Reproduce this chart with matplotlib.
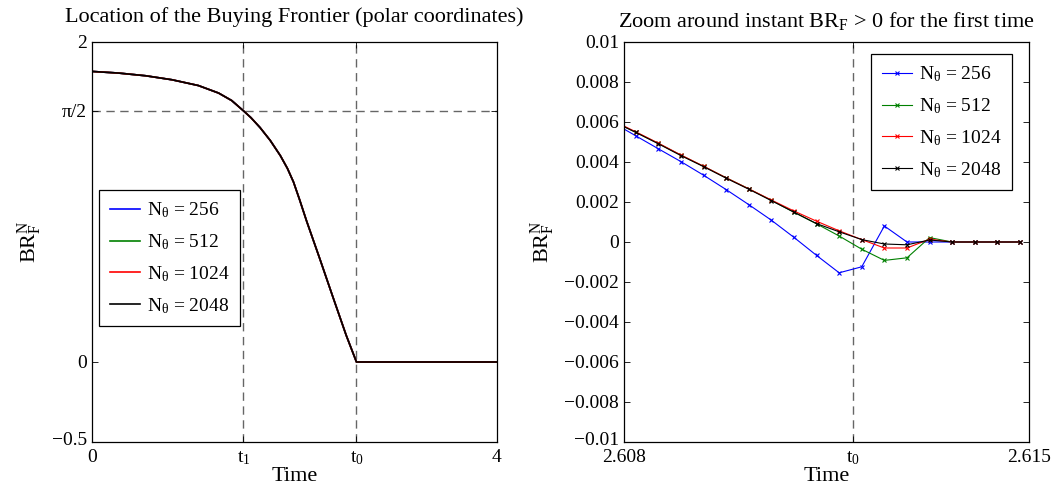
import matplotlib
matplotlib.use("Agg")
import matplotlib.pyplot as plt
from matplotlib.transforms import ScaledTranslation

plt.rcParams['font.family'] = ['Liberation Serif', 'DejaVu Serif']
plt.rcParams['mathtext.fontset'] = 'custom'
plt.rcParams['mathtext.rm'] = 'Liberation Serif'
plt.rcParams['mathtext.it'] = 'Liberation Serif'
plt.rcParams['mathtext.bf'] = 'Liberation Serif:bold'

# ---- data ----
t1 = 1.494
t0 = 2.61195

# left panel: the four resolutions overlap completely
t_left = [0, 0.26, 0.53, 0.79, 1.05, 1.25, 1.38, 1.494, 1.57, 1.66, 1.76,
          1.86, 1.93, 1.99, 2.05, 2.12, 2.25, 2.38, 2.51, 2.612, 4.0]
br_left = [1.816, 1.806, 1.789, 1.764, 1.728, 1.681, 1.634, 1.571, 1.527,
           1.465, 1.385, 1.29, 1.21, 1.125, 1.015, 0.88, 0.645, 0.405,
           0.168, 0.0, 0.0]

# right panel (zoom), time steps of 4/10240
t_zoom = [2.607813, 2.608203, 2.608594, 2.608984, 2.609375, 2.609766,
          2.610156, 2.610547, 2.610938, 2.611328, 2.611719, 2.612109,
          2.612500, 2.612891, 2.613281, 2.613672, 2.614063, 2.614453,
          2.614844]
br_256 = [0.00596, 0.00531, 0.00466, 0.00402, 0.00334, 0.00262, 0.00187,
          0.00109, 0.00023, -0.00067, -0.00154, -0.00124, 0.00080, 0, 0,
          0, 0, 0, 0]
br_512 = [0.00603, 0.00549, 0.00493, 0.00434, 0.00378, 0.00321, 0.00266,
          0.00208, 0.00149, 0.00091, 0.00030, -0.00036, -0.00092, -0.00079,
          0.00022, 0, 0, 0, 0]
br_1024 = [0.00606, 0.00551, 0.00494, 0.00435, 0.00379, 0.00321, 0.00266,
           0.00210, 0.00155, 0.00104, 0.00056, 0.00012, -0.00030, -0.00030,
           0.00014, 0, 0, 0, 0]
br_2048 = [0.00603, 0.00548, 0.00491, 0.00432, 0.00377, 0.00319, 0.00264,
           0.00207, 0.00149, 0.00092, 0.00051, 0.00012, -0.00010, -0.00014,
           0.00010, 0, 0, 0, 0]

labels = [r'N$_\theta$ = 256', r'N$_\theta$ = 512',
          r'N$_\theta$ = 1024', r'N$_\theta$ = 2048']
colors = ['#0000ff', '#008000', '#ff0000', '#000000']

left_xticks = [0, t1, t0, 4]
left_xlabels = ['0', '$t_1$', '$t_0$', '4']
left_yticks = [-0.5, 0, 1.5708, 2]
left_ylabels = ['\u22120.5', '0', '\u03c0/2', '2']

right_xticks = [2.608, t0, 2.615]
right_xlabels = ['2.608', '$t_0$', '2.615']
right_yticks = [-0.01, -0.008, -0.006, -0.004, -0.002, 0, 0.002, 0.004,
                0.006, 0.008, 0.01]
right_ylabels = ['\u22120.01', '\u22120.008', '\u22120.006', '\u22120.004',
                 '\u22120.002', '0', '0.002', '0.004', '0.006', '0.008', '0.01']

fig = plt.figure(figsize=(10.54, 4.88), dpi=100)
ax1 = fig.add_axes([92/1054, 46/488, 405/1054, 400/488])
ax2 = fig.add_axes([624/1054, 46/488, 405/1054, 400/488])

dash = dict(color='#666666', lw=1.0, linestyle=(0, (6, 4)), zorder=1)
legkw = dict(borderaxespad=0, fontsize=14, handlelength=1.55,
             fancybox=False, edgecolor='black', framealpha=1,
             labelspacing=0.62, borderpad=0.55, handletextpad=0.35)

# left panel
for lab, c in zip(labels, colors):
    ax1.plot(t_left, br_left, color=c, lw=1.2, label=lab)
ax1.axvline(t1, **dash)
ax1.axvline(t0, **dash)
ax1.axhline(1.5708, **dash)
ax1.set_xlim(0, 4)
ax1.set_ylim(-0.5, 2)
ax1.set_xticks(left_xticks, left_xlabels)
ax1.set_yticks(left_yticks, left_ylabels)
ax1.set_title('Location of the Buying Frontier (polar coordinates)',
              fontsize=16, pad=14.5)
leg1 = ax1.legend(loc='upper left', bbox_to_anchor=(0.017, 0.63), **legkw)
leg1.get_frame().set_linewidth(0.9)

# right panel
for ys, lab, c in zip([br_256, br_512, br_1024, br_2048], labels, colors):
    ax2.plot(t_zoom, ys, color=c, lw=0.8, marker='x', ms=3.5, mew=0.8,
             label=lab)
ax2.axvline(t0, **dash)
ax2.set_xlim(2.608, 2.615)
ax2.set_ylim(-0.01, 0.01)
ax2.set_xticks(right_xticks, right_xlabels)
ax2.set_yticks(right_yticks, right_ylabels)
ax2.set_title(r'Zoom around instant BR$_F$ > 0 for the first time',
              fontsize=16, pad=10.5)
leg2 = ax2.legend(loc='upper right', bbox_to_anchor=(0.958, 0.97), **legkw)
leg2.get_frame().set_linewidth(0.9)

for ax, ylx in [(ax1, -0.119), (ax2, -0.165)]:
    ax.tick_params(direction='in', top=True, right=True, length=4,
                   width=0.6, labelsize=14)
    ax.tick_params(axis='x', pad=5)
    ax.tick_params(axis='y', pad=3.5)
    for s in ax.spines.values():
        s.set_linewidth(0.9)
    ax.set_xlabel('Time', fontsize=16)
    ax.xaxis.set_label_coords(0.5, -0.063)
    ax.set_ylabel('BR$_F^N$', fontsize=16)
    ax.yaxis.set_label_coords(ylx, 0.5)
    # lift the lowest y label a touch so it clears the first x label
    lo = ax.get_yticklabels()[0]
    lo.set_transform(lo.get_transform() + ScaledTranslation(0, 2.5/72, fig.dpi_scale_trans))

fig.savefig('out.png', dpi=100)
